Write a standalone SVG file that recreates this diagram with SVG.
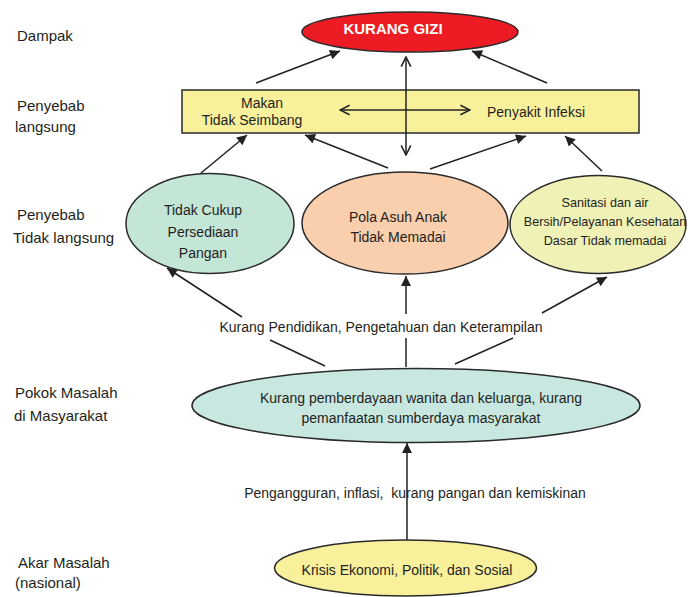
<svg xmlns="http://www.w3.org/2000/svg" width="688" height="597" viewBox="0 0 688 597">
<style>
text{font-family:"Liberation Sans",Arial,sans-serif;fill:#231f20;font-size:14px}
.lbl{font-size:15px}
.c{text-anchor:middle}
.shape{stroke:#2a2a2a;stroke-width:1.5}
.ln{stroke:#222;stroke-width:1.5;fill:none}
.arr{marker-end:url(#ah)}
.dbl{marker-start:url(#oh);marker-end:url(#oh)}
</style>
<defs>
<marker id="ah" viewBox="0 0 10 10" refX="10" refY="5" markerWidth="12" markerHeight="10" markerUnits="userSpaceOnUse" orient="auto">
<path d="M0,0 L10,5 L0,10 Z" fill="#222"/>
</marker>
<marker id="oh" viewBox="0 0 10 10" refX="9" refY="5" markerWidth="12" markerHeight="12" markerUnits="userSpaceOnUse" orient="auto-start-reverse">
<path d="M1,1 L9,5 L1,9" fill="none" stroke="#222" stroke-width="1.3"/>
</marker>
</defs>
<rect width="688" height="597" fill="#fff"/>
<g id="levels">
<text class="lbl" x="17" y="41">Dampak</text>
<text class="lbl" x="17" y="111">Penyebab</text>
<text class="lbl" x="15" y="132">langsung</text>
<text class="lbl" x="17" y="220">Penyebab</text>
<text class="lbl" x="13" y="243">Tidak langsung</text>
<text class="lbl" x="15" y="398">Pokok Masalah</text>
<text class="lbl" x="14" y="421">di Masyarakat</text>
<text class="lbl" x="18" y="568">Akar Masalah</text>
<text class="lbl" x="15" y="588">(nasional)</text>
</g>
<g id="connectors">
<line class="ln arr" x1="256" y1="83" x2="340" y2="51"/>
<line class="ln arr" x1="547" y1="83" x2="472" y2="51"/>
<line class="ln arr" x1="201" y1="173" x2="247" y2="135"/>
<line class="ln arr" x1="388" y1="168" x2="305" y2="135"/>
<line class="ln arr" x1="430" y1="169" x2="526" y2="136"/>
<line class="ln arr" x1="602" y1="171" x2="565" y2="136"/>
<line class="ln arr" x1="242" y1="317" x2="167" y2="268"/>
<line class="ln arr" x1="406" y1="314" x2="406" y2="276"/>
<line class="ln arr" x1="542" y1="313" x2="607" y2="277"/>
<line class="ln" x1="270" y1="340" x2="325" y2="366"/>
<line class="ln" x1="406" y1="338" x2="406" y2="367"/>
<line class="ln" x1="513" y1="338" x2="455" y2="364"/>
<line class="ln arr" x1="407" y1="540" x2="407" y2="443"/>
</g>
<g id="kurang-gizi">
<ellipse class="shape" cx="410" cy="32" rx="108" ry="20" fill="#ed1c24"/>
<text class="c" x="393" y="34" style="fill:#fff;font-weight:bold;font-size:15px">KURANG GIZI</text>
</g>
<g id="penyebab-langsung">
<rect class="shape" x="182" y="90" width="457" height="43" fill="#f9f09c"/>
<text class="c" x="262" y="108">Makan</text>
<text class="c" x="252" y="125">Tidak Seimbang</text>
<text class="c" x="536" y="117">Penyakit Infeksi</text>
</g>
<g id="double-arrows">
<line class="ln dbl" x1="340" y1="110" x2="470" y2="110"/>
<line class="ln dbl" x1="406" y1="57" x2="406" y2="155"/>
</g>
<g id="tidak-cukup">
<ellipse class="shape" cx="210" cy="223.5" rx="84" ry="50" fill="#c3e6d7"/>
<text class="c" x="203" y="215">Tidak Cukup</text>
<text class="c" x="203" y="237">Persediaan</text>
<text class="c" x="203" y="258">Pangan</text>
</g>
<g id="pola-asuh">
<ellipse class="shape" cx="405" cy="223" rx="103" ry="51" fill="#f9cfae"/>
<text class="c" x="398" y="222">Pola Asuh Anak</text>
<text class="c" x="398" y="242">Tidak Memadai</text>
</g>
<g id="sanitasi">
<ellipse class="shape" cx="598" cy="224.5" rx="88" ry="49" fill="#eff1b7"/>
<text class="c" x="605" y="207" style="font-size:12.6px">Sanitasi dan air</text>
<text class="c" x="605" y="226" style="font-size:12.6px">Bersih/Pelayanan Kesehatan</text>
<text class="c" x="605" y="245" style="font-size:12.6px">Dasar Tidak memadai</text>
</g>
<g id="label-pendidikan">
<text class="c" x="381" y="332">Kurang Pendidikan, Pengetahuan dan Keterampilan</text>
</g>
<g id="pokok-masalah">
<ellipse class="shape" cx="416" cy="405.5" rx="224" ry="37" fill="#c9e7e1"/>
<text class="c" x="421" y="403">Kurang pemberdayaan wanita dan keluarga, kurang</text>
<text class="c" x="421" y="423">pemanfaatan sumberdaya masyarakat</text>
</g>
<g id="label-pengangguran">
<text class="c" x="415" y="498" style="white-space:pre">Pengangguran, inflasi,  kurang pangan dan kemiskinan</text>
</g>
<g id="krisis">
<ellipse class="shape" cx="405.5" cy="568" rx="131" ry="28" fill="#f9f09c"/>
<text class="c" x="407" y="575">Krisis Ekonomi, Politik, dan Sosial</text>
</g>
</svg>
